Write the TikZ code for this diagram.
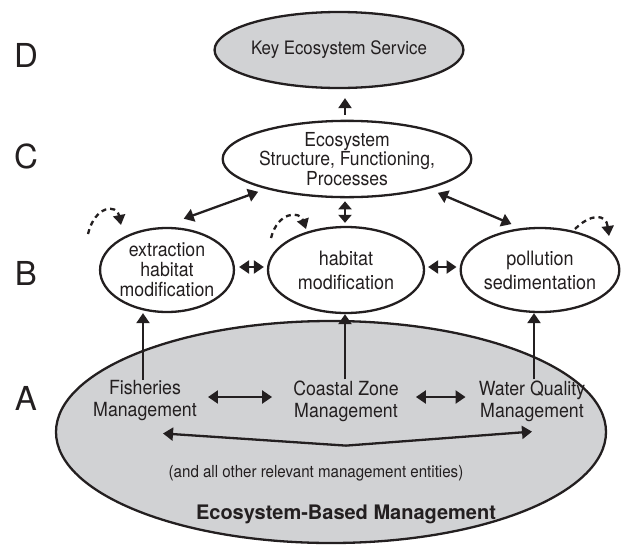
\documentclass[tikz,border=0pt]{standalone}
\usepackage{fontspec}
\setmainfont{TeX Gyre Heros}[FakeStretch=0.91]
\newfontfamily\plainheros{TeX Gyre Heros}
\usetikzlibrary{arrows.meta,shapes.geometric}
\definecolor{eg}{HTML}{D1D2D4}
\definecolor{ink}{HTML}{231F20}
\begin{document}
\begin{tikzpicture}[x=1pt,y=-1pt,
  ell/.style={ellipse,draw=ink,line width=2.3pt,inner sep=0pt,align=center,text=ink},
  lab/.style={inner sep=1pt,align=center,text=ink,font=\fontsize{19.5}{22}\selectfont},
  lev/.style={inner sep=0pt,text=ink,font=\plainheros\fontsize{33}{40}\selectfont},
  con/.style={line width=2.3pt,draw=ink,-{Triangle[length=10pt,width=13pt]}},
  dcon/.style={line width=2.3pt,draw=ink,{Triangle[length=10pt,width=13pt]}-{Triangle[length=10pt,width=13pt]}},
  sdcon/.style={line width=2.3pt,draw=ink,{Triangle[length=8pt,width=13pt]}-{Triangle[length=8pt,width=13pt]}},
  loopst/.style={line width=2.3pt,draw=ink,dash pattern=on 5pt off 4pt,-{Triangle[length=10pt,width=12pt]}}
]
\useasboundingbox (0,0) rectangle (637,544);
% level letters
\node[lev] (LD) at (26,55) {D};
\node[lev] (LC) at (26,156) {C};
\node[lev] (LB) at (26,273) {B};
\node[lev] (LA) at (26,398) {A};
% big ellipse
\node[ell,fill=eg,minimum width=550,minimum height=222] (Abig) at (331,432) {};
% top
\node[ell,fill=eg,minimum width=208,minimum height=76,font=\fontsize{18.5}{21}\selectfont] (key) at (339,50) {Key Ecosystem Service};
\node[ell,fill=white,minimum width=208,minimum height=74,font=\fontsize{19.3}{19.8}\selectfont] (C) at (347,159) {Ecosystem\\Structure, Functioning,\\Processes};
% B level
\node[ell,fill=white,minimum width=128,minimum height=84,font=\fontsize{19.5}{20}\selectfont] (Bl) at (167,270) {extraction\\habitat\\modification};
\node[ell,fill=white,minimum width=156,minimum height=86,font=\fontsize{19.8}{24}\selectfont] (Bm) at (346,270) {habitat\\modification};
\node[ell,fill=white,minimum width=157,minimum height=84,font=\fontsize{19.8}{24}\selectfont] (Br) at (540,270) {pollution\\sedimentation};
% A labels
\node[lab] (fish) at (145,401) {Fisheries\\Management};
\node[lab] (coast) at (346,401) {Coastal Zone\\Management};
\node[lab] (water) at (532,401) {Water Quality\\Management};
\node[inner sep=0pt,text=ink,font=\fontsize{16.6}{18}\selectfont] (other) at (316,473) {(and all other relevant management entities)};
\node[inner sep=0pt,text=ink,font=\plainheros\fontsize{20}{22}\bfseries] (ebm) at (346,514) {Ecosystem-Based Management};
% connectors
\draw[con,shorten <=5pt,shorten >=9pt] ([xshift=-2pt]C.north) -- ([xshift=-2pt]C.north |- key.south);
\draw[sdcon,shorten <=3pt,shorten >=3pt] ([xshift=-2pt]C.south) -- ([xshift=-2pt]C.south |- Bm.north);
\draw[dcon] ([shift={(3,-9)}]Bl.72) -- ([shift={(-7,3)}]C.200);
\draw[dcon] ([shift={(9,4)}]C.340) -- ([shift={(-3,-5)}]Br.122);
\draw[dcon,shorten <=4pt,shorten >=3pt] ([yshift=3pt]Bl.east) -- ([yshift=3pt]Bm.west);
\draw[dcon,shorten <=3pt,shorten >=3pt] ([yshift=3pt]Bm.east) -- ([yshift=3pt]Br.west);
\draw[con] ([xshift=-2pt]fish.north) -- ([xshift=-2pt]fish.north |- Bl.south);
\draw[con] ([xshift=-1pt]coast.north) -- ([xshift=-1pt]coast.north |- Bm.south);
\draw[con] ([xshift=2pt]water.north) -- ([xshift=2pt]water.north |- Br.south);
\draw[dcon,shorten <=10pt,shorten >=20pt] ([yshift=4pt]fish.east) -- ([yshift=4pt]coast.west);
\draw[dcon,shorten <=16pt,shorten >=12pt] ([yshift=4pt]coast.east) -- ([yshift=4pt]water.west);
\draw[dcon] ([shift={(18,11)}]fish.south) -- ([shift={(0,23)}]coast.south) -- ([shift={(0,9)}]water.south);
% dashed self loops
\coordinate (l1) at (88,234); \coordinate (l2) at (121,225);
\draw[loopst] (l1) .. controls (95,205) and (117,204) .. (l2);
\coordinate (m1) at (271,238); \coordinate (m2) at (306,229);
\draw[loopst] (m1) .. controls (278,211) and (300,211) .. (m2);
\coordinate (r1) at (575,229); \coordinate (r2) at (609,236);
\draw[loopst] (r1) .. controls (590,214) and (606,213) .. (r2);
\end{tikzpicture}
\end{document}
